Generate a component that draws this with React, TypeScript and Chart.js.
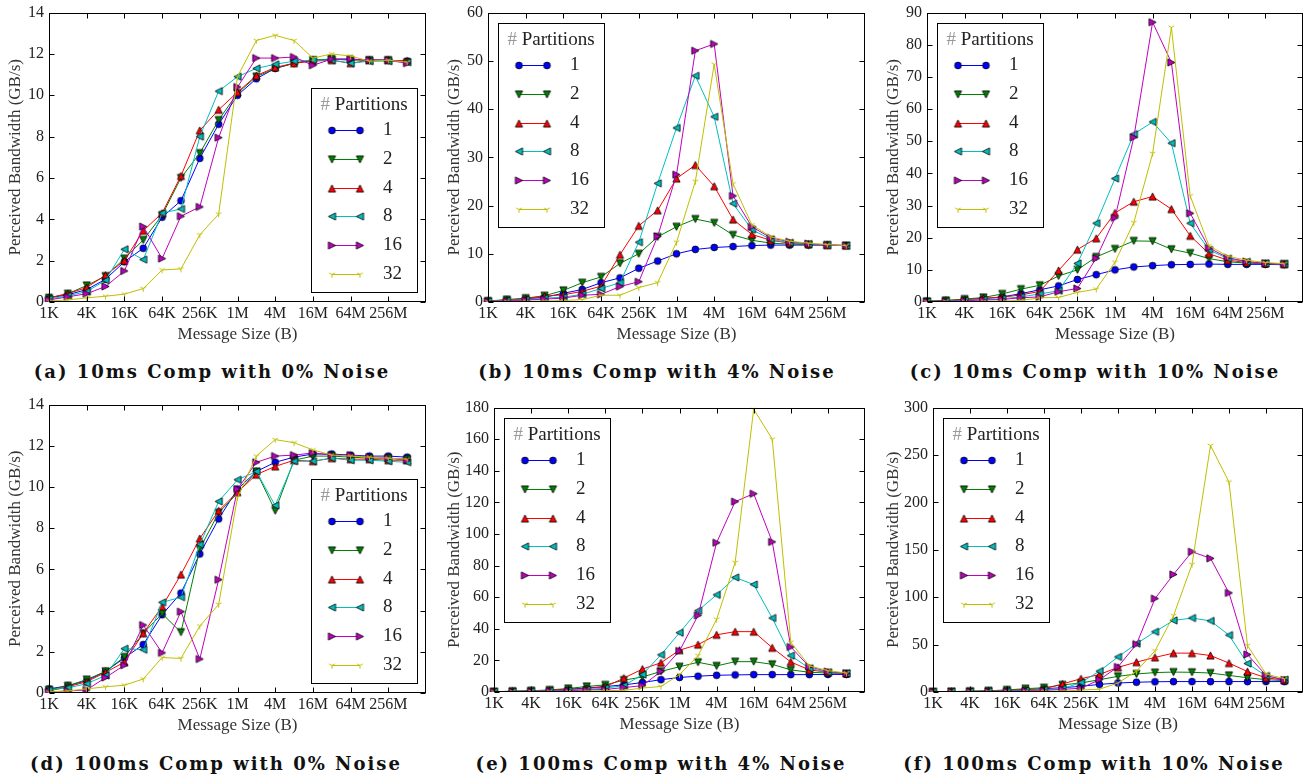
import React, { useEffect, useRef } from 'react';
import { Chart, registerables } from 'chart.js';

Chart.register(...registerables);

// ---------- shared categories ----------
const sizeLabels = ['1K', '2K', '4K', '8K', '16K', '32K', '64K', '128K', '256K', '512K', '1M', '2M', '4M', '8M', '16M', '32M', '64M', '128M', '256M', '512M', '1G'];
const labeledSizes = ['1K', '4K', '16K', '64K', '256K', '1M', '4M', '16M', '64M', '256M'];
const partitionLabels = ['1', '2', '4', '8', '16', '32'];
const seriesColors = ['#0000ff', '#008000', '#ff0000', '#00bfbf', '#bf00bf', '#bfbf00'];
const markerShapes = ['circle', 'down', 'up', 'left', 'right', 'tri'];

// ---------- (a) 10ms, 0% noise ----------
const a1 = [0.2, 0.35, 0.6, 1.1, 1.95, 2.6, 4.1, 4.9, 6.95, 8.6, 10.0, 10.8, 11.3, 11.55, 11.7, 11.75, 11.75, 11.7, 11.7, 11.65];
const a2 = [0.2, 0.4, 0.8, 1.25, 2.1, 3.0, 4.2, 6.0, 7.2, 8.8, 10.1, 10.9, 11.3, 11.55, 11.7, 11.75, 11.7, 11.7, 11.7, 11.6];
const a4 = [0.2, 0.4, 0.7, 1.3, 2.0, 3.45, 4.3, 6.1, 8.3, 9.3, 10.15, 10.95, 11.35, 11.55, 11.65, 11.7, 11.55, 11.7, 11.7, 11.65];
const a8 = [0.15, 0.3, 0.5, 1.05, 2.55, 2.05, 4.3, 4.5, 8.0, 10.2, 10.9, 11.3, 11.5, 11.65, 11.7, 11.7, 11.55, 11.65, 11.65, 11.6];
const a16 = [0.1, 0.25, 0.4, 0.75, 1.5, 3.65, 2.1, 4.15, 4.6, 7.95, 10.4, 11.8, 11.8, 11.85, 11.45, 11.75, 11.75, 11.7, 11.7, 11.55];
const a32 = [0.05, 0.1, 0.2, 0.28, 0.38, 0.65, 1.55, 1.6, 3.25, 4.25, 10.9, 12.65, 12.9, 12.65, 11.8, 12.0, 11.9, 11.65, 11.7, 11.6];

// ---------- (b) 10ms, 4% noise ----------
const b1 = [0.2, 0.4, 0.6, 1.0, 1.8, 2.6, 4.0, 5.0, 7.0, 8.5, 10.0, 10.9, 11.3, 11.5, 11.7, 11.8, 11.8, 11.8, 11.8, 11.7];
const b2 = [0.2, 0.5, 0.8, 1.3, 2.4, 4.0, 5.2, 8.0, 10.0, 13.5, 15.6, 17.2, 16.4, 13.9, 12.8, 12.2, 12.0, 11.9, 11.8, 11.7];
const b4 = [0.2, 0.4, 0.7, 1.2, 1.5, 2.2, 3.3, 9.8, 15.8, 19.0, 25.6, 28.4, 24.0, 17.1, 14.0, 12.8, 12.2, 12.0, 11.8, 11.7];
const b8 = [0.15, 0.3, 0.5, 0.8, 1.0, 1.6, 2.8, 4.0, 12.4, 24.6, 36.1, 46.9, 38.4, 20.4, 15.0, 13.0, 12.3, 12.0, 11.8, 11.7];
const b16 = [0.1, 0.2, 0.4, 0.6, 0.8, 1.4, 1.6, 3.2, 4.2, 13.6, 26.4, 52.1, 53.5, 22.0, 15.6, 13.3, 12.5, 12.1, 11.8, 11.7];
const b32 = [0.05, 0.1, 0.15, 0.2, 0.3, 0.5, 1.4, 1.4, 3.0, 4.0, 12.4, 25.0, 49.3, 24.5, 16.0, 13.5, 12.6, 12.2, 11.9, 11.7];

// ---------- (c) 10ms, 10% noise ----------
const c1 = [0.2, 0.4, 0.7, 1.0, 1.6, 2.6, 3.8, 5.0, 7.0, 8.5, 10.0, 10.9, 11.3, 11.6, 11.7, 11.8, 11.7, 11.7, 11.7, 11.6];
const c2 = [0.2, 0.5, 0.9, 1.4, 2.5, 4.0, 5.2, 8.1, 10.0, 14.0, 16.5, 19.0, 18.9, 16.4, 15.2, 13.5, 12.5, 12.1, 11.9, 11.8];
const c4 = [0.2, 0.4, 0.7, 1.2, 1.5, 2.2, 3.3, 9.8, 16.3, 19.8, 27.7, 31.2, 32.8, 28.9, 20.6, 15.0, 13.0, 12.3, 12.0, 11.8];
const c8 = [0.15, 0.3, 0.5, 0.8, 1.0, 1.6, 2.5, 3.5, 12.0, 24.5, 38.4, 52.2, 56.0, 49.4, 24.5, 16.2, 13.5, 12.5, 12.0, 11.8];
const c16 = [0.1, 0.2, 0.4, 0.6, 0.8, 1.3, 1.6, 3.2, 4.2, 13.6, 26.2, 51.2, 87.0, 74.5, 27.6, 16.8, 13.8, 12.6, 12.0, 11.8];
const c32 = [0.05, 0.1, 0.15, 0.2, 0.3, 0.5, 1.3, 1.4, 3.0, 4.0, 12.4, 24.7, 46.2, 85.4, 33.0, 17.5, 14.2, 13.0, 12.3, 11.9];

// ---------- (d) 100ms, 0% noise ----------
const d1 = [0.2, 0.35, 0.6, 1.05, 1.7, 2.35, 3.8, 4.85, 6.75, 8.45, 9.9, 10.75, 11.2, 11.45, 11.6, 11.6, 11.55, 11.5, 11.5, 11.45];
const d2 = [0.15, 0.35, 0.65, 1.05, 1.75, 2.9, 3.85, 2.95, 7.0, 8.75, 9.7, 10.75, 8.85, 11.3, 11.5, 11.5, 11.45, 11.4, 11.4, 11.35];
const d4 = [0.1, 0.3, 0.55, 1.0, 1.5, 2.9, 4.2, 5.75, 7.5, 8.85, 9.75, 10.6, 11.0, 11.3, 11.25, 11.4, 11.35, 11.35, 11.3, 11.3];
const d8 = [0.15, 0.25, 0.45, 0.85, 2.15, 2.1, 4.4, 4.65, 7.2, 9.3, 10.35, 10.75, 9.1, 11.25, 11.25, 11.4, 11.3, 11.3, 11.25, 11.2];
const d16 = [0.05, 0.1, 0.15, 0.75, 1.35, 3.3, 1.95, 3.95, 1.65, 5.5, 9.9, 11.2, 11.5, 11.55, 11.65, 11.55, 11.55, 11.45, 11.4, 11.3];
const d32 = [0.05, 0.1, 0.2, 0.3, 0.38, 0.68, 1.72, 1.68, 3.25, 4.3, 9.5, 11.5, 12.3, 12.15, 11.8, 11.55, 11.5, 11.45, 11.4, 11.35];

// ---------- (e) 100ms, 4% noise ----------
const e1 = [0.2, 0.4, 0.6, 1.0, 1.8, 2.5, 3.5, 4.5, 6.0, 7.8, 9.2, 10.0, 10.6, 10.8, 11.0, 11.0, 11.0, 11.0, 11.1, 11.1];
const e2 = [0.2, 0.5, 0.8, 1.3, 2.2, 3.5, 4.5, 7.5, 9.5, 13.0, 16.0, 18.8, 16.5, 19.2, 19.2, 17.5, 14.0, 12.5, 12.0, 11.6];
const e4 = [0.2, 0.4, 0.6, 1.1, 1.5, 2.2, 3.3, 8.8, 14.5, 18.5, 26.5, 30.0, 36.2, 38.2, 38.2, 28.0, 19.0, 14.0, 12.5, 11.8];
const e8 = [0.15, 0.3, 0.5, 0.8, 1.0, 1.6, 2.5, 4.0, 11.0, 23.5, 37.5, 51.5, 61.5, 72.5, 68.0, 46.8, 23.0, 15.0, 12.5, 11.8];
const e16 = [0.1, 0.2, 0.4, 0.6, 0.8, 1.3, 1.6, 2.8, 4.0, 13.0, 26.0, 48.5, 94.5, 120.5, 125.5, 95.0, 28.5, 16.0, 13.0, 11.8];
const e32 = [0.05, 0.1, 0.15, 0.2, 0.3, 0.5, 0.9, 1.0, 2.5, 3.5, 11.0, 23.0, 46.0, 82.0, 179.0, 160.0, 31.5, 16.5, 13.5, 12.0];

// ---------- (f) 100ms, 10% noise ----------
const f1 = [0.2, 0.4, 0.6, 1.0, 1.8, 2.5, 3.5, 4.5, 6.0, 8.0, 9.5, 10.3, 10.8, 11.0, 11.0, 11.0, 11.0, 11.0, 11.0, 11.0];
const f2 = [0.2, 0.5, 0.8, 1.3, 2.2, 3.5, 4.5, 7.5, 9.5, 13.0, 16.5, 19.0, 20.5, 21.0, 20.8, 20.0, 17.5, 15.0, 13.0, 12.0];
const f4 = [0.2, 0.4, 0.6, 1.1, 1.5, 2.2, 3.3, 8.5, 14.0, 18.5, 26.0, 31.5, 36.5, 41.0, 41.0, 38.5, 30.5, 21.5, 15.0, 12.5];
const f8 = [0.15, 0.3, 0.5, 0.8, 1.0, 1.6, 2.5, 3.5, 10.0, 22.0, 37.0, 51.0, 63.5, 75.5, 78.0, 75.0, 60.0, 30.0, 17.0, 13.0];
const f16 = [0.1, 0.2, 0.4, 0.6, 0.8, 1.3, 1.6, 2.8, 4.0, 13.0, 26.5, 50.5, 98.5, 124.0, 148.0, 141.0, 104.5, 39.5, 17.5, 12.5];
const f32 = [0.05, 0.1, 0.15, 0.2, 0.3, 0.5, 0.9, 1.0, 2.0, 3.0, 9.5, 22.0, 43.5, 80.5, 134.5, 260.0, 221.5, 49.0, 19.0, 14.0];

// ---------- panel meta ----------
const panelCaptions = [
  '(a) 10ms Comp with 0% Noise',
  '(b) 10ms Comp with 4% Noise',
  '(c) 10ms Comp with 10% Noise',
  '(d) 100ms Comp with 0% Noise',
  '(e) 100ms Comp with 4% Noise',
  '(f) 100ms Comp with 10% Noise',
];
const panelSeries = [
  [a1, a2, a4, a8, a16, a32],
  [b1, b2, b4, b8, b16, b32],
  [c1, c2, c4, c8, c16, c32],
  [d1, d2, d4, d8, d16, d32],
  [e1, e2, e4, e8, e16, e32],
  [f1, f2, f4, f8, f16, f32],
];
const panelYMax = [14, 60, 90, 14, 180, 300];
const panelYStep = [2, 10, 10, 2, 20, 50];
const panelLegendCorner = ['lr', 'ul', 'ul', 'lr', 'ul', 'ul'];

// layout geometry (plot area in page pixels)
const geom = [
  { L: 49, T: 10, R: 426, B: 302, yW: 44, padR: 12, capX: 212, capY: 371 },
  { L: 488, T: 10, R: 865, B: 302, yW: 44, padR: 12, capX: 657, capY: 371 },
  { L: 927, T: 10, R: 1303, B: 302, yW: 44, padR: 5, capX: 1095, capY: 371 },
  { L: 49, T: 402, R: 426, B: 693, yW: 44, padR: 12, capX: 216, capY: 763 },
  { L: 494, T: 405, R: 865, B: 692, yW: 50, padR: 12, capX: 661, capY: 763 },
  { L: 933, T: 405, R: 1303, B: 692, yW: 50, padR: 5, capX: 1094, capY: 763 },
];

const SERIF = "'Liberation Serif', 'Times New Roman', serif";
const PAD_TOP = 12;
const X_AXIS_H = 43;

function makeMarker(shape: string, color: string): HTMLCanvasElement {
  const s = 13;
  const c = document.createElement('canvas');
  c.width = s;
  c.height = s;
  const g = c.getContext('2d')!;
  const m = s / 2;
  const r = 3.6;
  g.lineWidth = 0.8;
  g.strokeStyle = '#000';
  g.fillStyle = color;
  g.beginPath();
  if (shape === 'circle') {
    g.arc(m, m, 3.4, 0, Math.PI * 2);
  } else if (shape === 'down') {
    g.moveTo(m, m + r); g.lineTo(m - r, m - r); g.lineTo(m + r, m - r); g.closePath();
  } else if (shape === 'up') {
    g.moveTo(m, m - r); g.lineTo(m - r, m + r); g.lineTo(m + r, m + r); g.closePath();
  } else if (shape === 'left') {
    g.moveTo(m - r, m); g.lineTo(m + r, m - r); g.lineTo(m + r, m + r); g.closePath();
  } else if (shape === 'right') {
    g.moveTo(m + r, m); g.lineTo(m - r, m - r); g.lineTo(m - r, m + r); g.closePath();
  }
  if (shape === 'tri') {
    g.strokeStyle = color;
    g.lineWidth = 1;
    g.moveTo(m, m); g.lineTo(m, m + 3.2);
    g.moveTo(m, m); g.lineTo(m - 2.8, m - 1.6);
    g.moveTo(m, m); g.lineTo(m + 2.8, m - 1.6);
    g.stroke();
  } else {
    g.fill();
    g.stroke();
  }
  return c;
}

function Panel({ idx }: { idx: number }) {
  const ref = useRef<HTMLCanvasElement>(null);
  const g = geom[idx];
  const left = g.L - g.yW;
  const top = g.T - PAD_TOP;
  const width = g.R + g.padR - left;
  const height = g.B + X_AXIS_H - top;

  useEffect(() => {
    const canvas = ref.current!;
    const markers = markerShapes.map((s, j) => makeMarker(s, seriesColors[j]));
    const corner = panelLegendCorner[idx];

    const framePlugin = {
      id: 'frameTicks',
      afterDatasetsDraw(chart: any) {
        const { ctx, chartArea } = chart;
        const xs = chart.scales.x;
        const ys = chart.scales.y;
        const l = Math.round(chartArea.left) + 0.5;
        const r = Math.round(chartArea.right) - 0.5;
        const t = Math.round(chartArea.top) + 0.5;
        const b = Math.round(chartArea.bottom) - 0.5;
        ctx.save();
        ctx.strokeStyle = '#000';
        ctx.lineWidth = 1;
        ctx.beginPath();
        const tl = 5;
        ys.ticks.forEach((tk: any) => {
          const py = Math.round(ys.getPixelForValue(tk.value)) + 0.5;
          ctx.moveTo(l, py); ctx.lineTo(l + tl, py);
          ctx.moveTo(r, py); ctx.lineTo(r - tl, py);
        });
        sizeLabels.forEach((lab, i) => {
          if (!labeledSizes.includes(lab)) return;
          const px = Math.round(xs.getPixelForValue(i)) + 0.5;
          ctx.moveTo(px, b); ctx.lineTo(px, b - tl);
          ctx.moveTo(px, t); ctx.lineTo(px, t + tl);
        });
        ctx.stroke();
        ctx.strokeRect(l, t, r - l, b - t);
        ctx.restore();
      },
    };

    const legendPlugin = {
      id: 'insideLegend',
      afterDraw(chart: any) {
        const { ctx, chartArea } = chart;
        const bw = 106;
        const bh = 204;
        let bx: number;
        let by: number;
        if (corner === 'lr') {
          bx = Math.round(chartArea.right - 9 - bw);
          by = Math.round(chartArea.bottom - 10 - bh);
        } else {
          bx = Math.round(chartArea.left + 10);
          by = Math.round(chartArea.top + 10);
        }
        ctx.save();
        ctx.fillStyle = '#fff';
        ctx.fillRect(bx + 0.5, by + 0.5, bw, bh);
        ctx.strokeStyle = '#000';
        ctx.lineWidth = 1;
        ctx.strokeRect(bx + 0.5, by + 0.5, bw, bh);
        // title
        ctx.font = `19px ${SERIF}`;
        ctx.textBaseline = 'middle';
        const hashTxt = '# ';
        const restTxt = 'Partitions';
        const w1 = ctx.measureText(hashTxt).width;
        const w2 = ctx.measureText(restTxt).width;
        const tx = bx + bw / 2 - (w1 + w2) / 2;
        const ty = by + 17;
        ctx.textAlign = 'left';
        ctx.fillStyle = '#9a9a9a';
        ctx.fillText(hashTxt, tx, ty);
        ctx.fillStyle = '#222';
        ctx.fillText(restTxt, tx + w1, ty);
        // entries
        for (let j = 0; j < partitionLabels.length; j++) {
          const ry = Math.round(by + 42 + j * 28.8) + 0.5;
          const x0 = bx + 21;
          const x1 = bx + 49;
          ctx.strokeStyle = seriesColors[j];
          ctx.lineWidth = 1;
          ctx.beginPath();
          ctx.moveTo(x0, ry);
          ctx.lineTo(x1, ry);
          ctx.stroke();
          const mk = markers[j];
          ctx.drawImage(mk, x0 - mk.width / 2, ry - mk.height / 2);
          ctx.drawImage(mk, x1 - mk.width / 2, ry - mk.height / 2);
          ctx.fillStyle = '#222';
          ctx.fillText(partitionLabels[j], bx + 72, ry);
        }
        ctx.restore();
      },
    };

    const chart = new Chart(canvas, {
      type: 'line',
      data: {
        labels: sizeLabels,
        datasets: panelSeries[idx].map((vals, j) => ({
          label: partitionLabels[j],
          data: vals,
          borderColor: seriesColors[j],
          backgroundColor: seriesColors[j],
          borderWidth: 1,
          pointStyle: markers[j] as any,
          pointRadius: 4,
          pointHoverRadius: 4,
          tension: 0,
          fill: false,
          order: partitionLabels.length - j,
        })),
      },
      options: {
        responsive: false,
        animation: false,
        events: [],
        layout: { padding: { left: 0, top: PAD_TOP, right: g.padR, bottom: 0 } },
        plugins: {
          legend: { display: false },
          tooltip: { enabled: false },
        },
        scales: {
          x: {
            type: 'category',
            offset: false,
            grid: { display: false, drawTicks: false },
            border: { display: false },
            ticks: {
              autoSkip: false,
              maxRotation: 0,
              minRotation: 0,
              padding: 2,
              color: '#222',
              font: { family: SERIF, size: 16 },
              callback: (_v: any, i: number) => (labeledSizes.includes(sizeLabels[i]) ? sizeLabels[i] : ''),
            },
            title: {
              display: true,
              text: 'Message Size (B)',
              color: '#333',
              font: { family: SERIF, size: 17 },
              padding: { top: 0, bottom: 0 },
            },
            afterFit: (s: any) => { s.height = X_AXIS_H; },
          },
          y: {
            min: 0,
            max: panelYMax[idx],
            grid: { display: false, drawTicks: false },
            border: { display: false },
            ticks: {
              stepSize: panelYStep[idx],
              padding: 5,
              color: '#222',
              font: { family: SERIF, size: 16 },
            },
            title: {
              display: true,
              text: 'Perceived Bandwidth (GB/s)',
              color: '#333',
              font: { family: SERIF, size: 17 },
              padding: 0,
            },
            afterFit: (s: any) => { s.width = g.yW; },
          },
        },
      } as any,
      plugins: [framePlugin, legendPlugin],
    });
    return () => chart.destroy();
  }, [idx]);

  return (
    <canvas
      ref={ref}
      width={width}
      height={height}
      style={{ position: 'absolute', left, top, width, height }}
    />
  );
}

export default function App() {
  return (
    <div style={{ position: 'absolute', left: 0, top: 0, width: 1309, height: 778, background: '#fff', overflow: 'hidden' }}>
      {geom.map((_, i) => <Panel key={i} idx={i} />)}
      {geom.map((g, i) => (
        <div
          key={'cap' + i}
          style={{
            position: 'absolute',
            left: g.capX,
            top: g.capY,
            transform: 'translate(-50%, -50%)',
            whiteSpace: 'nowrap',
            fontFamily: "'DejaVu Serif', serif",
            fontWeight: 'bold',
            fontSize: 18,
            letterSpacing: '2px',
            color: '#111',
          }}
        >
          {panelCaptions[i]}
        </div>
      ))}
    </div>
  );
}
